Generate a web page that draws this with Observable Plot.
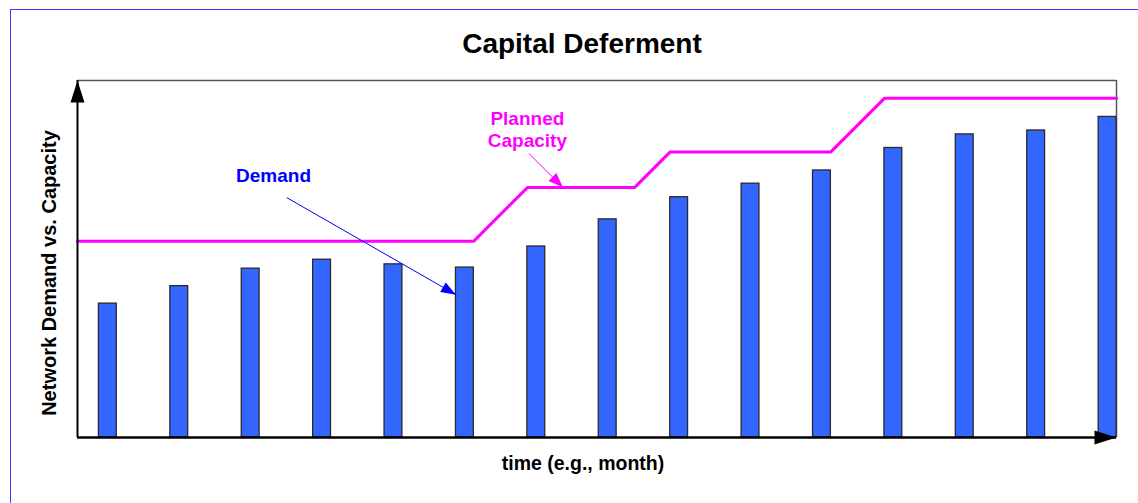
<!DOCTYPE html>
<html><head><meta charset="utf-8">
<script src="https://cdn.jsdelivr.net/npm/d3@7"></script>
<script src="https://cdn.jsdelivr.net/npm/@observablehq/plot@0.6"></script>
<style>html,body{margin:0;padding:0;background:#fff;} svg{display:block;}</style>
</head><body><div id="chart"></div>
<script>
// ---- data ----
const months = [1,2,3,4,5,6,7,8,9,10,11,12,13,14,15];
const demand = [37.5,42.4,47.3,49.8,48.5,47.6,53.5,61.1,67.3,71.1,74.8,81.1,84.9,86.0,89.8];
const capacityMonths = [0.7,6.25,7,8.5,9,11.25,12,15.25];
const capacityValues = [55,55,70,70,80,80,95,95];
const titleText = "Capital Deferment";
const xLabel = "time (e.g., month)";
const yLabel = "Network Demand vs. Capacity";
const demandLabel = "Demand";
const capacityLabel = "Planned\nCapacity";

// ---- layout ----
const W = 1138, H = 503, mL = 77, mR = 22, mT = 80, mB = 66;
const xDomain = [0.7, 15.25], yDomain = [0, 100];
const barWidth = 0.25;
const xs = d3.scaleLinear(xDomain, [mL, W - mR]);
const ys = d3.scaleLinear(yDomain, [H - mB, mT]);

const bars = months.map((m, i) => ({m, v: demand[i]}));
const capacity = capacityMonths.map((m, i) => ({m, v: capacityValues[i]}));

// annotation geometry (data units)
const demandArrow = {x1: 3.63, y1: 67.2, x2: 6.0, y2: 40.0};
const capArrow = {x1: 7.02, y1: 79.6, x2: 7.5, y2: 70.0};

function head(a, len, hw) {
  const ang = Math.atan2(ys(a.y2) - ys(a.y1), xs(a.x2) - xs(a.x1));
  const c = Math.cos(ang), s = Math.sin(ang);
  return {draw(ctx) {
    ctx.moveTo(0, 0);
    ctx.lineTo(-len * c - hw * s, -len * s + hw * c);
    ctx.lineTo(-len * c + hw * s, -len * s - hw * c);
    ctx.closePath();
  }};
}
const upHead = {draw(ctx){ ctx.moveTo(0,0); ctx.lineTo(-7,22); ctx.lineTo(7,22); ctx.closePath(); }};
const rightHead = {draw(ctx){ ctx.moveTo(0,0); ctx.lineTo(-22,-7); ctx.lineTo(-22,7); ctx.closePath(); }};

const font = "'Liberation Sans', Arial, Helvetica, sans-serif";

const chart = Plot.plot({
  width: W, height: H,
  marginLeft: mL, marginRight: mR, marginTop: mT, marginBottom: mB,
  x: {domain: xDomain, axis: null},
  y: {domain: yDomain, axis: null},
  style: {fontFamily: font, background: "transparent"},
  marks: [
    Plot.ruleY([yDomain[1]], {stroke: "#555", strokeWidth: 1.5}),
    Plot.ruleX([xDomain[1]], {stroke: "#555", strokeWidth: 1.5}),
    Plot.rectY(bars, {x1: "m", x2: d => d.m + barWidth, y: "v", fill: "#3366ff", stroke: "#2a2a2a", strokeWidth: 1.3}),
    Plot.line(capacity, {x: "m", y: "v", stroke: "#ff00ff", strokeWidth: 3}),
    Plot.ruleX([xDomain[0]], {stroke: "black", strokeWidth: 2}),
    Plot.ruleY([yDomain[0]], {stroke: "black", strokeWidth: 2.5}),
    Plot.dot([{x: xDomain[0], y: yDomain[1]}], {x: "x", y: "y", symbol: upHead, fill: "black", stroke: "none"}),
    Plot.dot([{x: xDomain[1], y: yDomain[0]}], {x: "x", y: "y", symbol: rightHead, fill: "black", stroke: "none"}),
    // annotation arrows
    Plot.link([demandArrow], {x1: "x1", y1: "y1", x2: "x2", y2: "y2", stroke: "#0000ff", strokeWidth: 1}),
    Plot.dot([demandArrow], {x: "x2", y: "y2", symbol: head(demandArrow, 15, 5.5), fill: "#0000ff", stroke: "none"}),
    Plot.link([capArrow], {x1: "x1", y1: "y1", x2: "x2", y2: "y2", stroke: "#ff00ff", strokeWidth: 1}),
    Plot.dot([capArrow], {x: "x2", y: "y2", symbol: head(capArrow, 15, 5.5), fill: "#ff00ff", stroke: "none"}),
    // labels
    Plot.text([demandLabel], {x: 3.445, y: 73.3, fill: "#0000ff", fontSize: 19, fontWeight: "bold"}),
    Plot.text([capacityLabel], {x: 7.0, y: 86.4, fill: "#ff00ff", fontSize: 19, fontWeight: "bold", lineHeight: 1.18}),
    Plot.text([titleText], {frameAnchor: "top", dx: -15, dy: -47, fontSize: 28, fontWeight: "bold", fill: "black"}),
    Plot.text([xLabel], {frameAnchor: "bottom", dx: -14, dy: 32, fontSize: 19.5, fontWeight: "bold", fill: "black"}),
    Plot.text([yLabel], {frameAnchor: "left", textAnchor: "middle", dx: -28, dy: 14, rotate: -90, fontSize: 20, fontWeight: "bold", fill: "black"})
  ]
});

d3.select(chart).insert("rect", ":first-child")
  .attr("x", 10.5).attr("y", 9.5).attr("width", 2000).attr("height", 2000)
  .attr("fill", "white").attr("stroke", "#3b3bff").attr("stroke-width", 1);
document.getElementById("chart").appendChild(chart);
</script>
</body></html>
